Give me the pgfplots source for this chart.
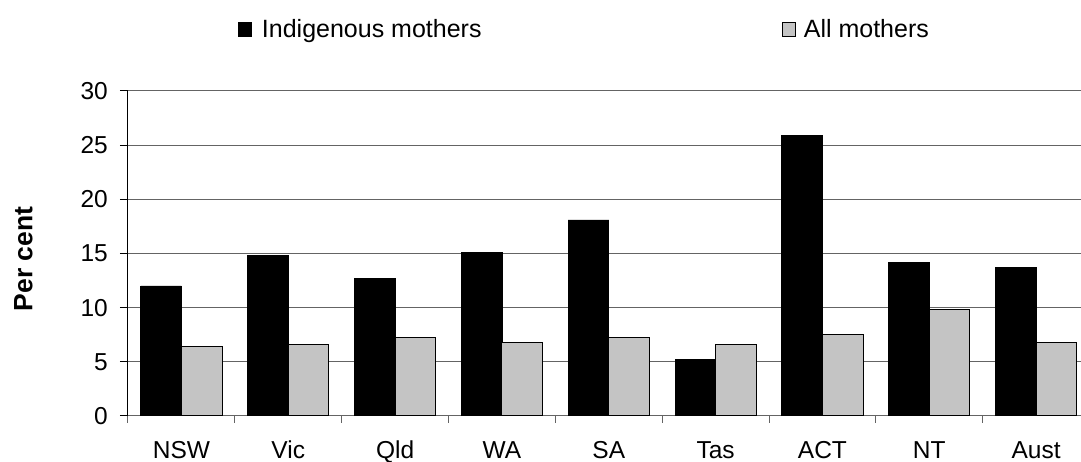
\documentclass[border=0pt]{standalone}
\usepackage{pgfplots}
\pgfplotsset{compat=1.18}
\usepackage{fontspec}
\setmainfont{Liberation Sans}
\definecolor{gridgray}{RGB}{100,100,100}
\definecolor{barlight}{RGB}{196,196,196}
\begin{document}
\fontsize{24.5}{29}\selectfont
\begin{tikzpicture}
\path[use as bounding box] (-128pt,-46pt) rectangle (953pt,416pt);
\begin{axis}[
  anchor=south west, at={(0pt,0pt)},
  scale only axis, width=953pt, height=325pt,
  xmin=-0.5, xmax=8.42, ymin=0, ymax=30,
  ytick={0,5,...,30},
  xtick={0,...,8},
  xticklabels={NSW,Vic,Qld,WA,SA,Tas,ACT,NT,Aust},
  minor xtick={-0.5,0.5,...,7.5},
  axis lines=left,
  axis line style={-},
  x axis line style={draw=gridgray, line width=1pt},
  y axis line style={draw=black, line width=1pt},
  tick align=outside,
  major x tick style={draw=none},
  major tick length=8pt, minor tick length=7pt,
  minor x tick style={draw=gridgray, line width=1pt},
  major y tick style={draw=black, line width=1pt},
  ymajorgrids, grid style={draw=gridgray, line width=1pt},
  /pgf/number format/assume math mode=true,
  ticklabel style={font=\fontsize{24.5}{29}\selectfont},
  yticklabel style={anchor=east, inner sep=0pt, xshift=-12pt},
  xticklabel style={anchor=base, inner sep=0pt, yshift=-35pt},
  ylabel={\bfseries Per cent},
  ylabel style={font=\fontsize{26.5}{31}\selectfont, at={(axis description cs:-0.1004,0.483)}, anchor=base, inner sep=0pt},
  ybar=0pt, bar width=0.38,
  legend columns=2,
  legend style={draw=none, fill=none, inner sep=0pt, outer sep=0pt,
    at={(axis description cs:0.1151,1.1538)}, anchor=south west,
    nodes={inner sep=0pt, font=\fontsize{25}{30}\selectfont},
    /tikz/column 1/.style={column sep=10pt},
    /tikz/column 2/.style={column sep=300pt},
    /tikz/column 3/.style={column sep=8pt}},
  legend image code/.code={\draw[#1, line width=0.8pt] (0pt,-6pt) rectangle (13.5pt,7.5pt);},
]
\addplot[fill=black, draw=black, line width=0.8pt, bar shift=-0.19] coordinates {
 (0,12.0) (1,14.8) (2,12.7) (3,15.1) (4,18.1) (5,5.2) (6,25.9) (7,14.2) (8,13.7)};
\addplot[fill=barlight, draw=black, line width=1pt, bar shift=0.19] coordinates {
 (0,6.4) (1,6.6) (2,7.2) (3,6.8) (4,7.2) (5,6.6) (6,7.5) (7,9.8) (8,6.8)};
\legend{Indigenous mothers, All mothers}
\end{axis}
\end{tikzpicture}
\end{document}
